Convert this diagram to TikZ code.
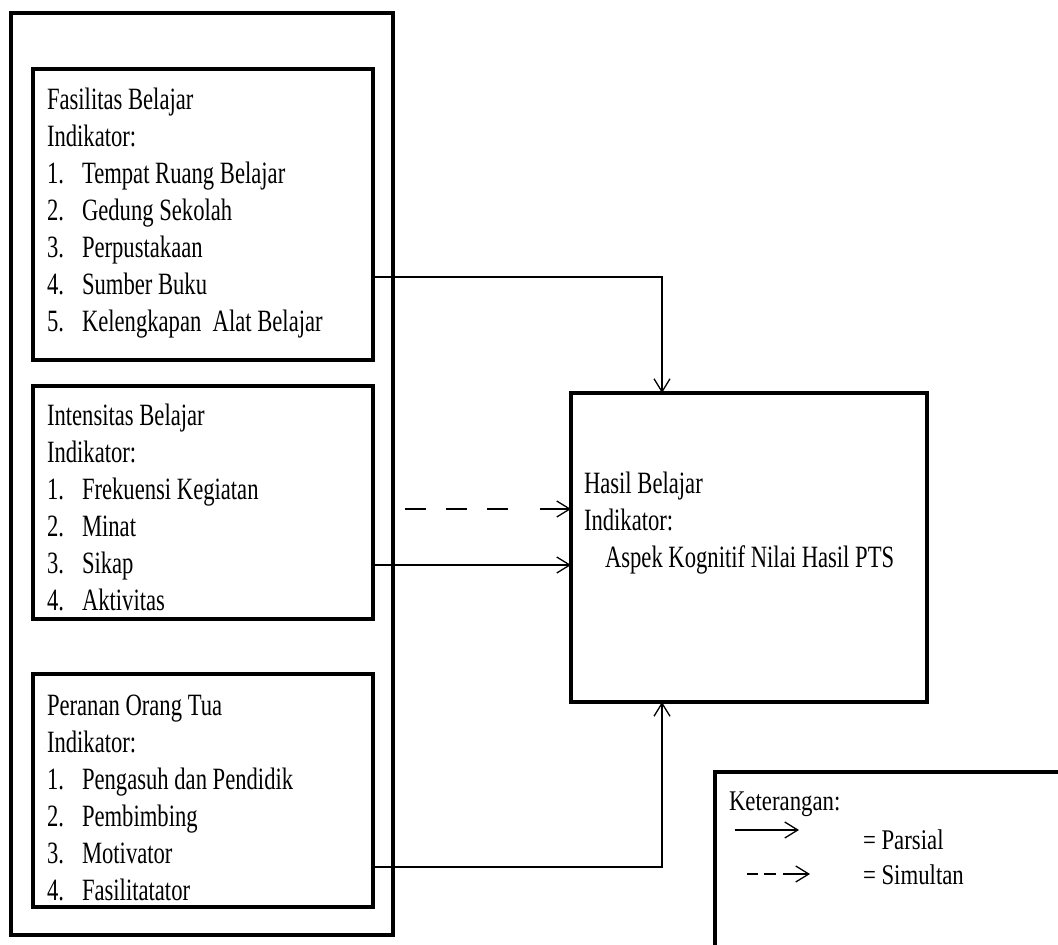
\documentclass[tikz,border=0pt]{standalone}
\usepackage{fontspec}
\setmainfont{Liberation Serif}[FakeStretch=0.73]
\newfontfamily\legfont{Liberation Serif}[FakeStretch=0.80]
\usetikzlibrary{arrows.meta}
\begin{document}
\begin{tikzpicture}[x=1pt,y=-1pt,
  box/.style={draw, line width=4pt, inner sep=0pt, outer sep=0pt, anchor=north west},
  obox/.style={draw, line width=3.5pt, inner sep=0pt, outer sep=0pt, anchor=north west},
  txt/.style={anchor=base west, inner sep=0pt, outer sep=0pt, font=\fontsize{31}{37}\selectfont},
  ltxt/.style={anchor=base west, inner sep=0pt, outer sep=0pt, font=\legfont\fontsize{28.5}{37}\selectfont},
  conn/.style={line width=1.3pt, -{Straight Barb[length=13pt,width=16pt,line width=1.3pt]}},
  ]
\useasboundingbox (0,0) rectangle (1058,945);
\clip (0,0) rectangle (1058,945);
% boxes
\node[obox, minimum width=382pt, minimum height=922pt] (outer) at (11,13) {};
\node[box, minimum width=340pt, minimum height=291pt] (fas) at (33,69) {};
\node[box, minimum width=340pt, minimum height=233pt] (int) at (33,386) {};
\node[box, minimum width=340pt, minimum height=233pt] (per) at (33,674) {};
\node[box, minimum width=356pt, minimum height=309pt] (hasil) at (571,393) {};
\node[box, minimum width=400pt, minimum height=260pt] (leg) at (715,772) {};
% texts box 1
\node[txt] (f0) at (47,109) {Fasilitas Belajar};
\node[txt] (f1) at (47,146) {Indikator:};
\foreach \t [count=\i] in {Tempat Ruang Belajar, Gedung Sekolah, Perpustakaan, Sumber Buku, Kelengkapan\ \ Alat Belajar}{
  \node[txt] (fn\i) at (47,{146+37*\i}) {\i.};
  \node[txt] (ft\i) at (82,{146+37*\i}) {\t};
}
% texts box 2
\node[txt] (i0) at (47,425) {Intensitas Belajar};
\node[txt] (i1) at (47,462) {Indikator:};
\foreach \t [count=\i] in {Frekuensi Kegiatan, Minat, Sikap, Aktivitas}{
  \node[txt] (in\i) at (47,{462+37*\i}) {\i.};
  \node[txt] (it\i) at (82,{462+37*\i}) {\t};
}
% texts box 3
\node[txt] (p0) at (47,715) {Peranan Orang Tua};
\node[txt] (p1) at (47,752) {Indikator:};
\foreach \t [count=\i] in {Pengasuh dan Pendidik, Pembimbing, Motivator, Fasilitatator}{
  \node[txt] (pn\i) at (47,{752+37*\i}) {\i.};
  \node[txt] (pt\i) at (82,{752+37*\i}) {\t};
}
% hasil texts
\node[txt] (h0) at (584,493) {Hasil Belajar};
\node[txt] (h1) at (584,530) {Indikator:};
\node[txt] (h2) at (605,567) {Aspek Kognitif Nilai Hasil PTS};
% legend texts
\node[ltxt] (k0) at (729,810) {Keterangan:};
\node[ltxt] (k1) at (863,849) {= Parsial};
\node[ltxt] (k2) at (863,884) {= Simultan};
% connectors
\coordinate (a1s) at ([yshift=-62.5pt]fas.east);
\coordinate (a1e) at ([xshift=-87pt]hasil.north);
\draw[conn] (a1s) -| (a1e);
\coordinate (a2s) at ([yshift=-62.5pt]int.east);
\draw[conn] (a2s) -- (a2s -| hasil.west);
\coordinate (a3s) at ([yshift=-76.5pt]per.east);
\coordinate (a3e) at ([xshift=-87pt]hasil.south);
\draw[conn] (a3s) -| (a3e);
\coordinate (dte) at ([yshift=38.5pt]hasil.west);
\path (outer.east |- dte) ++(12,0) coordinate (dts);
\draw[conn, dash pattern=on 21pt off 20pt on 21pt off 20pt on 21pt off 32pt on 60pt off 1pt] (dts) -- (dte);
% legend arrows
\coordinate (lps) at (735,830);
\coordinate (lpe) at (799,830);
\draw[conn] (lps) -- (lpe);
\coordinate (lss) at (747,874);
\coordinate (lse) at (810,874);
\draw[conn, dash pattern=on 11pt off 6pt on 12pt off 7pt on 60pt off 1pt] (lss) -- (lse);
\end{tikzpicture}
\end{document}
